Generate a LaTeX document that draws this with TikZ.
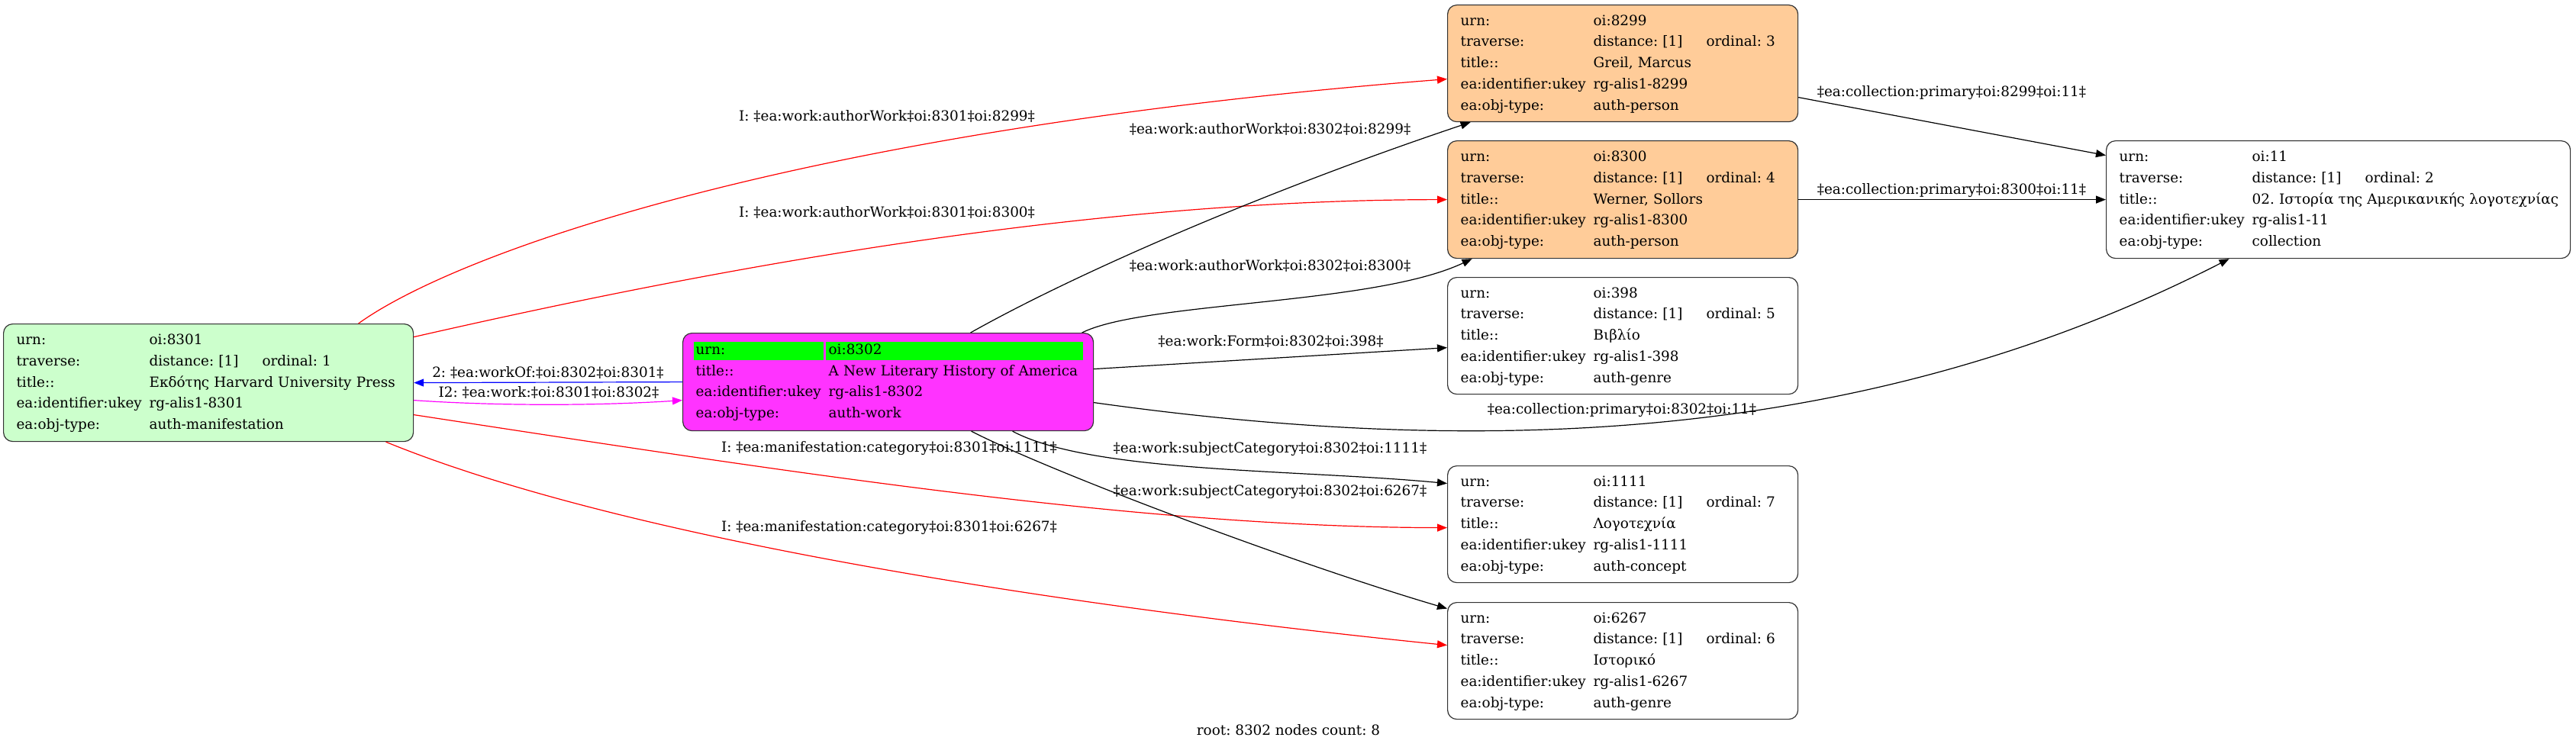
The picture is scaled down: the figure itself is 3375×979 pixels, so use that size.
\documentclass[tikz,border=0pt]{standalone}
\usepackage{fontspec}
\setmainfont{DejaVu Serif}
\usepackage{tikz}
\usetikzlibrary{arrows.meta, calc, positioning}
\frenchspacing

\definecolor{manifgreen}{HTML}{CCFFCC}
\definecolor{personorange}{HTML}{FFCC99}
\definecolor{workmagenta}{HTML}{FF33FF}
\definecolor{urngreen}{HTML}{00FF00}
\definecolor{linkmagenta}{HTML}{FF00FF}

% rows of one record (urn, ordinal, title, ukey, type)
\newcommand{\recrows}[5]{%
  \begin{tabular}{@{}p{87pt}@{}p{74pt}@{}l@{}}
    urn: & #1 & \\
    traverse: & distance: [1] & ordinal: #2 \\
    title:: & \multicolumn{2}{@{}l@{}}{#3} \\
    ea:identifier:ukey & \multicolumn{2}{@{}l@{}}{#4} \\
    ea:obj-type: & \multicolumn{2}{@{}l@{}}{#5}
  \end{tabular}}
% green cell of the root record
\newcommand{\urncell}[3]{\hspace*{-#2}{\setlength{\fboxsep}{0pt}\colorbox{urngreen}{\makebox[#1][l]{\hspace*{#2}\rule[-3.5pt]{0pt}{12pt}#3}}}}

\tikzset{
  rec/.style={draw=black!80, line width=0.6pt, rounded corners=6pt, anchor=north west,
    inner xsep=8.5pt, inner ysep=1pt, font=\fontsize{9.2}{13.85}\selectfont},
  lbl/.style={font=\fontsize{9.2}{11}\selectfont, inner sep=0pt},
  link/.style={line width=0.6pt, -{Triangle[length=6.5pt,width=5pt]}}
}

\begin{document}
\begin{tikzpicture}[x=0.5pt, y=-0.5pt]

        \useasboundingbox (0,0) rectangle (3375,979);

        % Các bản ghi
        \node[rec, fill=manifgreen, text width=251.5pt, minimum height=77pt] (n8301) at (4,424)
          {\recrows{oi:8301}{1}{Εκδότης Harvard University Press}{rg-alis1-8301}{auth-manifestation}};
        \node[rec, fill=workmagenta, text width=252pt, minimum height=64pt] (n8302) at (894,436)
          {\begin{tabular}{@{}p{87pt}@{}l@{}}
             \urncell{85pt}{1.5pt}{urn:} & \urncell{168.5pt}{2pt}{oi:8302} \\
             title:: & A New Literary History of America \\
             ea:identifier:ukey & rg-alis1-8302 \\
             ea:obj-type: & auth-work
           \end{tabular}};
        \node[rec, fill=personorange, text width=212.5pt, minimum height=76.5pt] (n8299) at (1896,6)
          {\recrows{oi:8299}{3}{Greil, Marcus}{rg-alis1-8299}{auth-person}};
        \node[rec, fill=personorange, text width=212.5pt, minimum height=77pt] (n8300) at (1896,184)
          {\recrows{oi:8300}{4}{Werner, Sollors}{rg-alis1-8300}{auth-person}};
        \node[rec, text width=212.5pt, minimum height=76.5pt] (n398) at (1896,363)
          {\recrows{oi:398}{5}{Βιβλίο}{rg-alis1-398}{auth-genre}};
        \node[rec, text width=212.5pt, minimum height=76.5pt] (n1111) at (1896,610)
          {\recrows{oi:1111}{7}{Λογοτεχνία}{rg-alis1-1111}{auth-concept}};
        \node[rec, text width=212.5pt, minimum height=76.5pt] (n6267) at (1896,789)
          {\recrows{oi:6267}{6}{Ιστορικό}{rg-alis1-6267}{auth-genre}};
        \node[rec, text width=287pt, minimum height=77pt] (n11) at (2759,184)
          {\recrows{oi:11}{2}{02. Ιστορία της Αμερικανικής λογοτεχνίας}{rg-alis1-11}{collection}};

        % Cạnh từ oi:8301
        \draw[link, red] ([xshift=98.25pt]n8301.north) .. controls (600,330) and (1050,170) .. ([yshift=-10.25pt]n8299.west);
        \draw[link, red] ([yshift=30pt]n8301.east) .. controls (900,360) and (1400,262) .. (n8300.west);
        \draw[link, linkmagenta] ([yshift=-11.5pt]n8301.east) .. controls (650,532) and (780,532) .. ([yshift=-12pt]n8302.west);
        \draw[link, red] ([yshift=-21pt]n8301.east) .. controls (1041,620) and (1496,691) .. ([yshift=-2.25pt]n1111.west);
        \draw[link, red] ([xshift=116.25pt]n8301.south) .. controls (850,720) and (1496,805) .. ([yshift=10.25pt]n6267.west);

        % Cạnh từ oi:8302
        \draw[link, blue] (n8302.west) -- (n8301.east);
        \draw[link] ([xshift=54pt]n8302.north) .. controls (1421,352) and (1676,244) .. ([xshift=-99.75pt]n8299.south);
        \draw[link] ([xshift=127pt]n8302.north) .. controls (1500,395) and (1800,400) .. ([xshift=-98.75pt]n8300.south);
        \draw[link] ([yshift=8.5pt]n8302.east) -- ([yshift=-7.75pt]n398.west);
        \draw[link] ([yshift=-13.5pt]n8302.east) .. controls (1950,600) and (2450,580) .. ([xshift=-71.5pt]n11.south);
        \draw[link] ([xshift=81.5pt]n8302.south) .. controls (1430,620) and (1700,615) .. ([yshift=26.75pt]n1111.west);
        \draw[link] ([xshift=54.5pt]n8302.south) .. controls (1380,620) and (1700,740) .. ([yshift=34.25pt]n6267.west);

        % Cạnh tới oi:11
        \draw[link] ([yshift=-22.25pt]n8299.east) -- ([yshift=29pt]n11.west);
        \draw[link] (n8300.east) -- (n11.west);

        % Nhãn các cạnh
        \node[lbl] (l8299a) at (1162,152) {I: ‡ea:work:authorWork‡oi:8301‡oi:8299‡};
        \node[lbl] (l8300a) at (1162,278) {I: ‡ea:work:authorWork‡oi:8301‡oi:8300‡};
        \node[lbl] (l8301b) at (718,488) {2: ‡ea:workOf:‡oi:8302‡oi:8301‡};
        \node[lbl] (l8302a) at (719,514) {I2: ‡ea:work:‡oi:8301‡oi:8302‡};
        \node[lbl] (l1111a) at (1165,588) {I: ‡ea:manifestation:category‡oi:8301‡oi:1111‡};
        \node[lbl] (l6267a) at (1165,692) {I: ‡ea:manifestation:category‡oi:8301‡oi:6267‡};
        \node[lbl] (l8299b) at (1664,169) {‡ea:work:authorWork‡oi:8302‡oi:8299‡};
        \node[lbl] (l8300b) at (1664,348) {‡ea:work:authorWork‡oi:8302‡oi:8300‡};
        \node[lbl] (l398b) at (1665,447) {‡ea:work:Form‡oi:8302‡oi:398‡};
        \node[lbl] (l11b) at (2125,538) {‡ea:collection:primary‡oi:8302‡oi:11‡};
        \node[lbl] (l1111b) at (1664,589) {‡ea:work:subjectCategory‡oi:8302‡oi:1111‡};
        \node[lbl] (l6267b) at (1664,645) {‡ea:work:subjectCategory‡oi:8302‡oi:6267‡};
        \node[lbl] (l11c) at (2557,122) {‡ea:collection:primary‡oi:8299‡oi:11‡};
        \node[lbl] (l11d) at (2557,250) {‡ea:collection:primary‡oi:8300‡oi:11‡};

        % Chú thích
        \node[lbl] (caption) at (1688,957) {root: 8302 nodes count: 8};

\end{tikzpicture}
\end{document}
